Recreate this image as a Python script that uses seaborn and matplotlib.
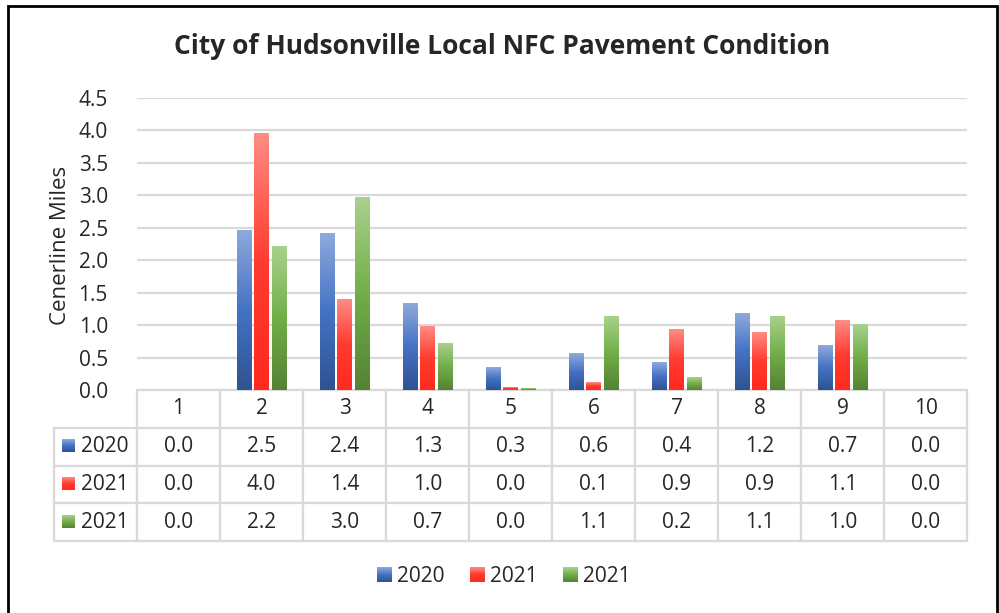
import numpy as np
import pandas as pd
import matplotlib
matplotlib.use('Agg')
import matplotlib.pyplot as plt
import seaborn as sns
from matplotlib.colors import LinearSegmentedColormap
from matplotlib.image import BboxImage
from matplotlib.transforms import Bbox, TransformedBbox
from matplotlib.legend_handler import HandlerBase
from matplotlib.patches import Patch, Rectangle

# data
categories = [str(i) for i in range(1, 11)]
series_ids = ['s2020', 's2021a', 's2021b']
series_labels = ['2020', '2021', '2021']
values_2020 = [0.0, 2.46, 2.41, 1.33, 0.34, 0.56, 0.43, 1.18, 0.68, 0.0]
values_2021a = [0.0, 3.96, 1.39, 0.98, 0.04, 0.12, 0.94, 0.88, 1.07, 0.0]
values_2021b = [0.0, 2.21, 2.97, 0.71, 0.03, 1.14, 0.20, 1.13, 1.01, 0.0]

# gradient colours: bottom, middle, top
grad_colors = {
    's2020': ['#2F5392', '#4472C4', '#8FAADC'],
    's2021a': ['#FF2A1C', '#FF3B2F', '#FF8C85'],
    's2021b': ['#548235', '#72AE48', '#A9D18E'],
}
cmaps = {k: LinearSegmentedColormap.from_list(k, v) for k, v in grad_colors.items()}
grad = np.linspace(1, 0, 256).reshape(-1, 1)
norm = plt.Normalize(0, 1)

W, H = 999, 613
FONT = 'Open Sans'
FS = 15

sns.set_style('white')
plt.rcParams['font.family'] = [FONT, 'DejaVu Sans']

df = pd.DataFrame({
    'category': categories * 3,
    'series': np.repeat(series_ids, len(categories)),
    'value': values_2020 + values_2021a + values_2021b,
})


def gradient_image(bbox, cmap, zorder=2.5):
    img = BboxImage(bbox, cmap=cmap, norm=norm, origin='upper', interpolation='bilinear')
    img.set_data(grad)
    img.set_zorder(zorder)
    return img


class GradientHandler(HandlerBase):
    def __init__(self, cmap):
        super().__init__()
        self.cmap = cmap

    def create_artists(self, legend, orig_handle, xdescent, ydescent, width, height, fontsize, trans):
        bbox = TransformedBbox(Bbox.from_bounds(-xdescent, -ydescent, width, height), trans)
        return [gradient_image(bbox, self.cmap)]


fig = plt.figure(figsize=(W / 100, H / 100), dpi=100)
ax = fig.add_axes([137 / W, (H - 390) / H, 830 / W, 292 / H])

sns.barplot(data=df, x='category', y='value', hue='series', order=categories,
            hue_order=series_ids, palette=[grad_colors[s][1] for s in series_ids],
            width=0.63, gap=0.15, errorbar=None, legend=False, ax=ax)

# gradient fill over each bar
for container, sid in zip(ax.containers, series_ids):
    for bar in container:
        h = bar.get_height()
        bar.set_edgecolor('none')
        if h <= 0:
            continue
        bb = TransformedBbox(Bbox.from_bounds(bar.get_x(), 0, bar.get_width(), h), ax.transData)
        ax.add_artist(gradient_image(bb, cmaps[sid]))

ax.set_ylim(0, 4.5)
ax.set_yticks(np.arange(0, 4.51, 0.5))
ax.set_yticklabels([f'{t:.1f}' for t in np.arange(0, 4.51, 0.5)], fontsize=FS)
ax.tick_params(axis='y', length=0, pad=21)
ax.set_xticks([])
ax.set_xlabel('')
ax.set_ylabel('')
ax.grid(axis='y', color='#D9D9D9', linewidth=1.6)
ax.set_axisbelow(True)
for sp in ax.spines.values():
    sp.set_visible(False)

# data table under the plot (bbox covers the value cells, row labels sit to the left)
cell_text = [[f'{v:.1f}' for v in vals] for vals in (values_2020, values_2021a, values_2021b)]
tbl_h = 151 / 292
tbl = ax.table(cellText=cell_text, colLabels=categories, cellLoc='center', colLoc='center',
               colWidths=[0.1] * 10, bbox=[0, -tbl_h, 1, tbl_h])
cell_h = tbl[(1, 0)].get_height()
for r, lab in enumerate(series_labels, start=1):
    tbl.add_cell(r, -1, width=0.1, height=cell_h, text=lab, loc='right')
tbl.auto_set_font_size(False)
tbl.set_fontsize(FS)
for cell in tbl.get_celld().values():
    cell.set_edgecolor('#D9D9D9')
    cell.set_linewidth(1.6)

# small gradient keys in the row labels
row_centers = [446, 484, 522]
for yc, sid in zip(row_centers, series_ids):
    x0 = (62 - 137) / 830
    y0 = (390 - yc - 6.5) / 292
    bb = TransformedBbox(Bbox.from_bounds(x0, y0, 13 / 830, 13 / 292), ax.transAxes)
    img = gradient_image(bb, cmaps[sid], zorder=5)
    img.set_clip_on(False)
    ax.add_artist(img)

fig.text(502 / W, 1 - 46 / H, 'City of Hudsonville Local NFC Pavement Condition',
         ha='center', va='center', fontsize=19, fontweight='bold')
fig.text(60 / W, 1 - 245 / H, 'Cenerline Miles', rotation=90,
         ha='center', va='center', fontsize=16)

handles = [Patch(facecolor=grad_colors[s][1], label=l) for s, l in zip(series_ids, series_labels)]
fig.legend(handles=handles, labels=series_labels, loc='center',
           bbox_to_anchor=(504 / W, 1 - 577 / H), ncol=3, frameon=False, fontsize=FS,
           handlelength=0.68, handleheight=0.68, handletextpad=0.3, columnspacing=1.2,
           handler_map={h: GradientHandler(cmaps[s]) for h, s in zip(handles, series_ids)})

# chart border (bottom edge runs past the image)
fig.patches.append(Rectangle((8 / W, -0.01), 989 / W, 1.01 - 6 / H, transform=fig.transFigure,
                             fill=False, edgecolor='black', linewidth=2))

fig.savefig('out.png', dpi=100)
